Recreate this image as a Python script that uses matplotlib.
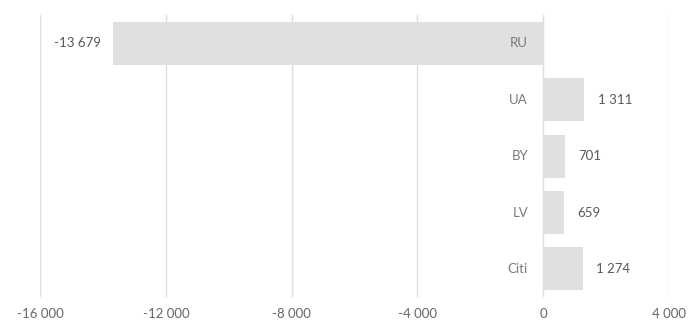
import matplotlib.pyplot as plt
import numpy as np

categories = ["RU", "UA", "BY", "LV", "Citi"]
values = [-13679, 1311, 701, 659, 1274]
xticks = [-16000, -12000, -8000, -4000, 0, 4000]


def fmt(v):
    s = "{:,}".format(abs(int(v))).replace(",", " ")
    return ("-" if v < 0 else "") + s


plt.rcParams['font.family'] = ['Lato', 'DejaVu Sans']

fig = plt.figure(figsize=(6.91, 3.29), dpi=100)
ax = fig.add_axes([0.058, 0.097, 0.91, 0.857])

y = np.arange(len(categories))
ax.barh(y, values, height=0.76, color="#e0e0e0", zorder=2)

ax.set_xlim(-16000, 4000)
ax.set_ylim(len(categories) - 0.5, -0.5)
ax.set_xticks(xticks)
ax.set_xticklabels([fmt(t) for t in xticks], color="#666666", fontsize=9.5)
ax.set_yticks([])
ax.tick_params(axis="x", length=0, pad=8)
ax.grid(axis="x", color="#dedede", linewidth=1, zorder=0)
for s in ax.spines.values():
    s.set_visible(False)

# category names sit just left of the zero line
for i, c in enumerate(categories):
    ax.text(-480, i, c, ha="right", va="center", fontsize=9.5, color="#7a7a7a", zorder=3)

# value labels outside bar ends
for i, v in enumerate(values):
    if v < 0:
        ax.text(v - 380, i, fmt(v), ha="right", va="center", fontsize=9.5, color="#595959")
    else:
        ax.text(v + 420, i, fmt(v), ha="left", va="center", fontsize=9.5, color="#595959")

fig.savefig("out.png", dpi=100)
